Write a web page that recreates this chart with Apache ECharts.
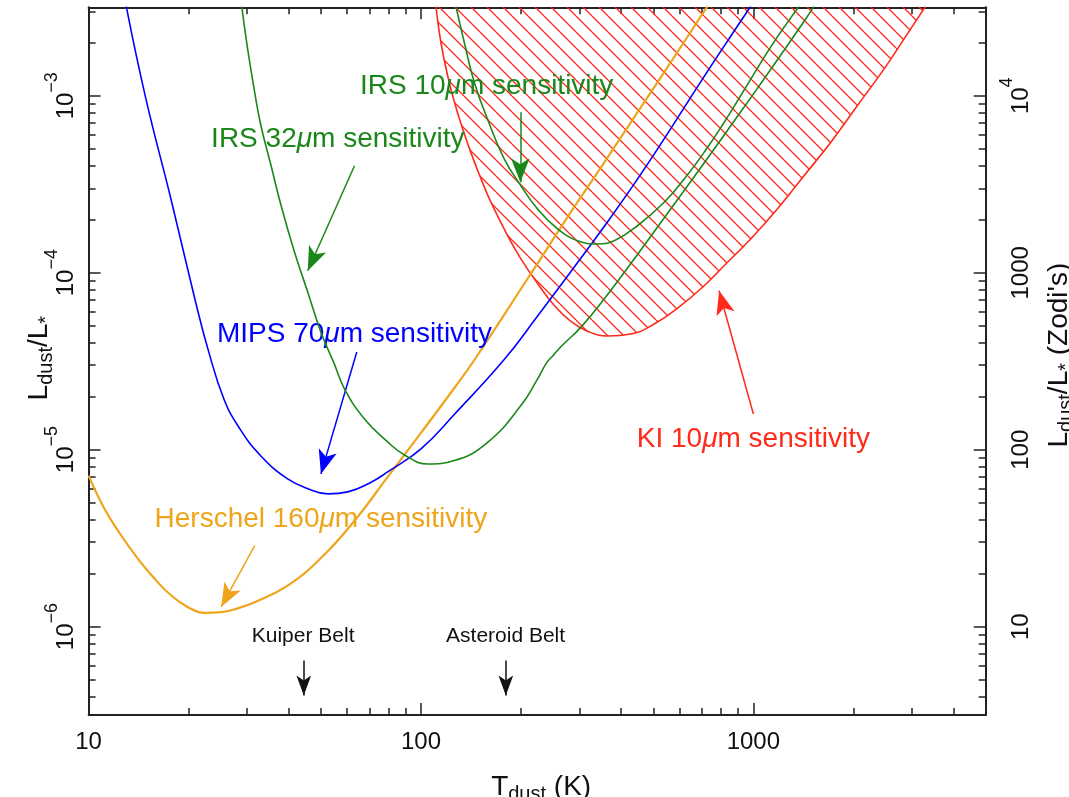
<!DOCTYPE html>
<html><head><meta charset="utf-8">
<script src="https://cdn.jsdelivr.net/npm/echarts@6/dist/echarts.min.js"></script>
<style>html,body{margin:0;padding:0;background:#fff}#c{width:1069px;height:797px}</style>
</head><body><div id="c"></div>
<script>
// ---------------- data (T in K, L = Ldust/L*) ----------------
const mipsT = [12.98, 14.88, 17.69, 20.88, 22.85, 25.53, 28.52, 32.98, 39.7, 46.3, 52.5, 60.2, 70.1, 79.4, 100, 126.3, 178.5, 224.3, 281.9, 356.6, 448, 563, 712.3, 895, 982];
const mipsL = [3.2e-3, 9.58e-4, 2.61e-4, 7.1e-5, 3.71e-5, 1.934e-5, 1.309e-5, 9.21e-6, 6.83e-6, 5.96e-6, 5.62e-6, 5.77e-6, 6.48e-6, 7.48e-6, 1.01e-5, 1.59e-5, 3.25e-5, 5.69e-5, 1.009e-4, 1.835e-4, 3.38e-4, 6.48e-4, 1.292e-3, 2.47e-3, 3.2e-3];

const herschelT = [10, 11.17, 12.54, 14.08, 15.8, 17.73, 19.9, 22.3, 25.05, 28.1, 31.6, 39.7, 50.0, 63.1, 79.4, 100, 126, 144.7, 209, 282, 356, 448, 564, 727];
const herschelL = [7.13e-6, 4.62e-6, 3.27e-6, 2.41e-6, 1.86e-6, 1.497e-6, 1.287e-6, 1.195e-6, 1.206e-6, 1.267e-6, 1.373e-6, 1.704e-6, 2.44e-6, 3.96e-6, 7.01e-6, 1.243e-5, 2.23e-5, 3.21e-5, 9.21e-5, 2.19e-4, 4.2e-4, 8.06e-4, 1.544e-3, 3.2e-3];

const irs32T = [28.9, 30.1, 31.6, 33.0, 35.4, 37.95, 41.65, 45.65, 50.0, 54.7, 58.9, 67.6, 79.4, 89.2, 104.7, 126, 158.7, 199.8, 224.3, 238.7, 248.9, 264.9, 302.6, 355.8, 448, 564, 711, 895, 1127, 1420, 1522];
const irs32L = [3.2e-3, 1.835e-3, 1.045e-3, 6.77e-4, 4.02e-4, 2.39e-4, 1.304e-4, 7.75e-5, 4.61e-5, 3.09e-5, 2.2e-5, 1.49e-5, 1.105e-5, 9.33e-6, 8.3e-6, 8.67e-6, 1.1e-5, 1.773e-5, 2.51e-5, 3.09e-5, 3.38e-5, 3.85e-5, 4.91e-5, 7.1e-5, 1.267e-4, 2.29e-4, 4.17e-4, 7.63e-4, 1.406e-3, 2.63e-3, 3.2e-3];

const irs10T = [127.4, 135, 144.7, 159.8, 178.1, 199.8, 224.3, 257.6, 295.8, 339.7, 381.3, 448, 539, 619, 711, 816.5, 937.6, 1127, 1372];
const irs10L = [3.2e-3, 2.0e-3, 1.19e-3, 7.1e-4, 4.39e-4, 3.1e-4, 2.29e-4, 1.766e-4, 1.516e-4, 1.453e-4, 1.516e-4, 1.842e-4, 2.5e-4, 3.38e-4, 4.79e-4, 7.07e-4, 1.077e-3, 1.884e-3, 3.2e-3];

const kiT = [110.9, 114.8, 120.3, 126, 131.9, 141.3, 151.5, 162.3, 182.2, 199.8, 224.3, 251.8, 282.4, 316.9, 364, 427.9, 502.9, 604.6, 711, 816.5, 981.5, 1180.5, 1420, 1708, 2054, 2471, 2838, 3296];
const kiL = [3.2e-3, 2.0e-3, 1.297e-3, 9.24e-4, 6.96e-4, 4.77e-4, 3.4e-4, 2.505e-4, 1.622e-4, 1.198e-4, 8.69e-5, 6.53e-5, 5.31e-5, 4.67e-5, 4.39e-5, 4.5e-5, 5.13e-5, 6.51e-5, 8.44e-5, 1.095e-4, 1.55e-4, 2.29e-4, 3.53e-4, 5.45e-4, 8.78e-4, 1.415e-3, 2.09e-3, 3.2e-3];

// ---------------- ticks ----------------
const xMajorTicks = [10, 100, 1000];
const xMinorTicks = [20, 30, 40, 50, 60, 70, 80, 90, 200, 300, 400, 500, 600, 700, 800, 900, 2000, 3000, 4000];
const yMajorTicks = [1e-6, 1e-5, 1e-4, 1e-3];
const zodiMajorTicks = [10, 100, 1000, 10000];
const minorMultipliers = [2, 3, 4, 5, 6, 7, 8, 9];
const yDecades = [-7, -6, -5, -4, -3];

// ---------------- annotations ----------------
const labels = [
  {pre: 'IRS 10', post: 'm sensitivity', color: 'green', at: [157.6, 1.135e-3]},
  {pre: 'IRS 32', post: 'm sensitivity', color: 'green', at: [56.2, 5.69e-4]},
  {pre: 'MIPS 70', post: 'm sensitivity', color: 'blue', at: [63.1, 4.5e-5]},
  {pre: 'Herschel 160', post: 'm sensitivity', color: 'orange', at: [50, 4.06e-6]},
  {pre: 'KI 10', post: 'm sensitivity', color: 'red', at: [1000, 1.15e-5]}
];
const beltLabels = [
  {text: 'Kuiper Belt', at: [44.2, 8.86e-7]},
  {text: 'Asteroid Belt', at: [179.7, 8.86e-7]}
];
const arrows = [
  {color: 'green', from: [199, 8.06e-4], to: [199, 3.24e-4]},
  {color: 'green', from: [63.1, 4.02e-4], to: [45.65, 1.026e-4]},
  {color: 'blue', from: [64.1, 3.56e-5], to: [50, 7.29e-6]},
  {color: 'orange', from: [31.6, 2.87e-6], to: [25.05, 1.29e-6]},
  {color: 'red', from: [1000, 1.59e-5], to: [788.6, 7.91e-5]}
];
const beltArrows = [
  {from: [44.4, 6.42e-7], to: [44.4, 4.07e-7]},
  {from: [180, 6.42e-7], to: [180, 4.07e-7]}
];

// ---------------- styles ----------------
const COL = {blue: '#0000ff', orange: '#eea51c', green: '#1b871b', red: '#ff2a1a', axis: '#222'};
const FONT = 'Liberation Sans';
const xMin = 10, xMax = 5000;
const yMin = Math.pow(10, -6.5), yMax = Math.pow(10, -2.5);
const ZODI = 1e7;

const yMinorTicks = [];
yDecades.forEach(d => minorMultipliers.forEach(m => {
  const v = m * Math.pow(10, d);
  if (v > yMin && v < yMax) yMinorTicks.push(v);
}));
const zodiMinorTicks = yMinorTicks.map(v => v * ZODI);

function zip(a, b) { return a.map((v, i) => [v, b[i]]); }

function hatch(color) {
  const s = 16;
  const c = document.createElement('canvas');
  c.width = s; c.height = s;
  const g = c.getContext('2d');
  g.strokeStyle = color; g.lineWidth = 1.3;
  g.beginPath();
  [-s, 0, s].forEach(o => { g.moveTo(o, 0); g.lineTo(o + s, s); });
  g.stroke();
  return c;
}

const tickStyle = {color: COL.axis, width: 1.5};
const lineAxis = {show: true, onZero: false, lineStyle: {color: COL.axis, width: 2}};
const nameRich = {
  m: {fontFamily: FONT, fontSize: 28, color: '#111', verticalAlign: 'top', lineHeight: 28},
  s: {fontFamily: FONT, fontSize: 20, color: '#111', verticalAlign: 'top', lineHeight: 20, padding: [11, 0, 0, 0]}
};
const tickRich = {
  b: {fontFamily: FONT, fontSize: 24, color: '#111', lineHeight: 24, verticalAlign: 'bottom'},
  s: {fontFamily: FONT, fontSize: 18, color: '#111', lineHeight: 36, verticalAlign: 'top', padding: [0, 0, 18, 0]},
  e: {fontFamily: FONT, fontSize: 1, color: 'rgba(0,0,0,0)', lineHeight: 36, verticalAlign: 'top'}
};

function xAxisDef(pos, ticks, len, major, labelsOn) {
  return {
    type: 'log', logBase: 10, min: xMin, max: xMax, position: pos, gridIndex: 0,
    axisLine: major ? lineAxis : {show: false},
    axisTick: {show: true, inside: true, length: len, customValues: ticks, lineStyle: tickStyle},
    axisLabel: labelsOn ? {
      show: true, customValues: xMajorTicks, margin: 15,
      fontFamily: FONT, fontSize: 24, color: '#111',
      formatter: v => String(Math.round(v))
    } : {show: false},
    splitLine: {show: false}, minorTick: {show: false}, minorSplitLine: {show: false},
    name: labelsOn ? '{m|T}{s|dust}{m| (K)}' : '',
    nameLocation: 'middle', nameGap: 58, nameMoveOverlap: false,
    nameTextStyle: {padding: [0, 0, 0, 8], rich: nameRich}
  };
}

function yAxisDef(pos, min, max, ticks, len, major, labelVals, fmt, name, nameGap, namePad) {
  return {
    type: 'log', logBase: 10, min: min, max: max, position: pos, gridIndex: 0,
    axisLine: major ? lineAxis : {show: false},
    axisTick: {show: true, inside: true, length: len, customValues: ticks, lineStyle: tickStyle},
    axisLabel: labelVals ? {
      show: true, customValues: labelVals, rotate: 90, margin: pos === 'left' ? 10 : 12,
      formatter: fmt, rich: tickRich
    } : {show: false},
    splitLine: {show: false}, minorTick: {show: false}, minorSplitLine: {show: false},
    name: name || '', nameLocation: 'middle', nameGap: nameGap || 0, nameRotate: 90, nameMoveOverlap: false,
    nameTextStyle: {padding: namePad || 0, rich: nameRich}
  };
}

const leftFmt = v => {
  const e = Math.round(Math.log10(v));
  return '{b|10}{s|\u2212' + (-e) + '}';
};
const rightFmt = v => {
  const r = Math.round(v);
  return r >= 10000 ? '{b|10}{s|' + Math.round(Math.log10(r)) + '}' : '{b|' + r + '}{e| }';
};

function labelPoint(l) {
  return {
    coord: l.at,
    label: {
      show: true, position: 'inside',
      formatter: () => '{a|' + l.pre + '}{u|\u03bc}{a|' + l.post + '}',
      rich: {
        a: {fontFamily: FONT, fontSize: 28, color: COL[l.color]},
        u: {fontFamily: FONT, fontSize: 28, fontStyle: 'italic', color: COL[l.color]}
      }
    }
  };
}

function arrowData(list, headSize) {
  return list.map(a => [
    {coord: a.from, symbol: 'none'},
    {coord: a.to, symbol: 'arrow', symbolSize: headSize}
  ]);
}

function markersFor(colorName) {
  return {
    markPoint: {
      silent: true, symbol: 'circle', symbolSize: 0, animation: false,
      itemStyle: {color: 'rgba(0,0,0,0)'},
      data: labels.filter(l => l.color === colorName).map(labelPoint)
    },
    markLine: {
      silent: true, animation: false, symbol: ['none', 'arrow'], symbolSize: 20,
      label: {show: false},
      lineStyle: {color: COL[colorName], width: 1.5, type: 'solid'},
      data: arrowData(arrows.filter(a => a.color === colorName), [14, 24])
    }
  };
}

function curve(name, T, L, colorName, width, z, extra) {
  return Object.assign({
    type: 'line', name: name, data: zip(T, L), xAxisIndex: 0, yAxisIndex: 0,
    showSymbol: false, symbol: 'none', smooth: 0.45, z: z, silent: true,
    lineStyle: {color: COL[colorName], width: width},
    itemStyle: {color: COL[colorName]}
  }, markersFor(colorName), extra || {});
}

const irs10 = curve('IRS 10\u03bcm', irs10T, irs10L, 'green', 1.6, 5);
delete irs10.markPoint; delete irs10.markLine;

const series = [
  curve('KI 10\u03bcm', kiT, kiL, 'red', 1.6, 1, {
    areaStyle: {color: {image: hatch(COL.red), repeat: 'repeat'}, origin: 'end', opacity: 1}
  }),
  curve('Herschel 160\u03bcm', herschelT, herschelL, 'orange', 2.2, 3),
  curve('MIPS 70\u03bcm', mipsT, mipsL, 'blue', 1.6, 4),
  curve('IRS 32\u03bcm', irs32T, irs32L, 'green', 1.6, 5),
  irs10,
  {
    type: 'line', name: 'belts', data: [], xAxisIndex: 0, yAxisIndex: 0, silent: true, z: 6,
    markPoint: {
      silent: true, symbol: 'circle', symbolSize: 0, animation: false,
      itemStyle: {color: 'rgba(0,0,0,0)'},
      data: beltLabels.map(b => ({coord: b.at, label: {show: true, position: 'inside', formatter: () => b.text,
        fontFamily: FONT, fontSize: 21, color: '#111'}}))
    },
    markLine: {
      silent: true, animation: false, symbol: ['none', 'arrow'], symbolSize: 16,
      label: {show: false},
      lineStyle: {color: '#111', width: 1.5, type: 'solid'},
      data: arrowData(beltArrows, [11, 20])
    }
  }
];

const option = {
  backgroundColor: '#fff',
  animation: false,
  grid: {left: 88.6, right: 83.3, top: 7.3, bottom: 82, containLabel: false, outerBoundsMode: 'none'},
  xAxis: [
    xAxisDef('bottom', xMajorTicks, 12, true, true),
    xAxisDef('bottom', xMinorTicks, 7, false, false),
    xAxisDef('top', xMajorTicks, 12, true, false),
    xAxisDef('top', xMinorTicks, 7, false, false)
  ],
  yAxis: [
    yAxisDef('left', yMin, yMax, yMajorTicks, 12, true, yMajorTicks, leftFmt,
      '{m|L}{s|dust}{m|/L}{s|*}', 35, [0, 0, 0, 6]),
    yAxisDef('left', yMin, yMax, yMinorTicks, 7, false, null),
    yAxisDef('right', yMin * ZODI, yMax * ZODI, zodiMajorTicks, 12, true, zodiMajorTicks, rightFmt,
      '{m|L}{s|dust}{m|/L}{s|*}{m| (Zodi\'s)}', 60, [0, 0, 0, 12]),
    yAxisDef('right', yMin * ZODI, yMax * ZODI, zodiMinorTicks, 7, false, null)
  ],
  series: series
};

const chart = echarts.init(document.getElementById('c'), null, {renderer: 'canvas'});
chart.setOption(option);
</script>
</body></html>
